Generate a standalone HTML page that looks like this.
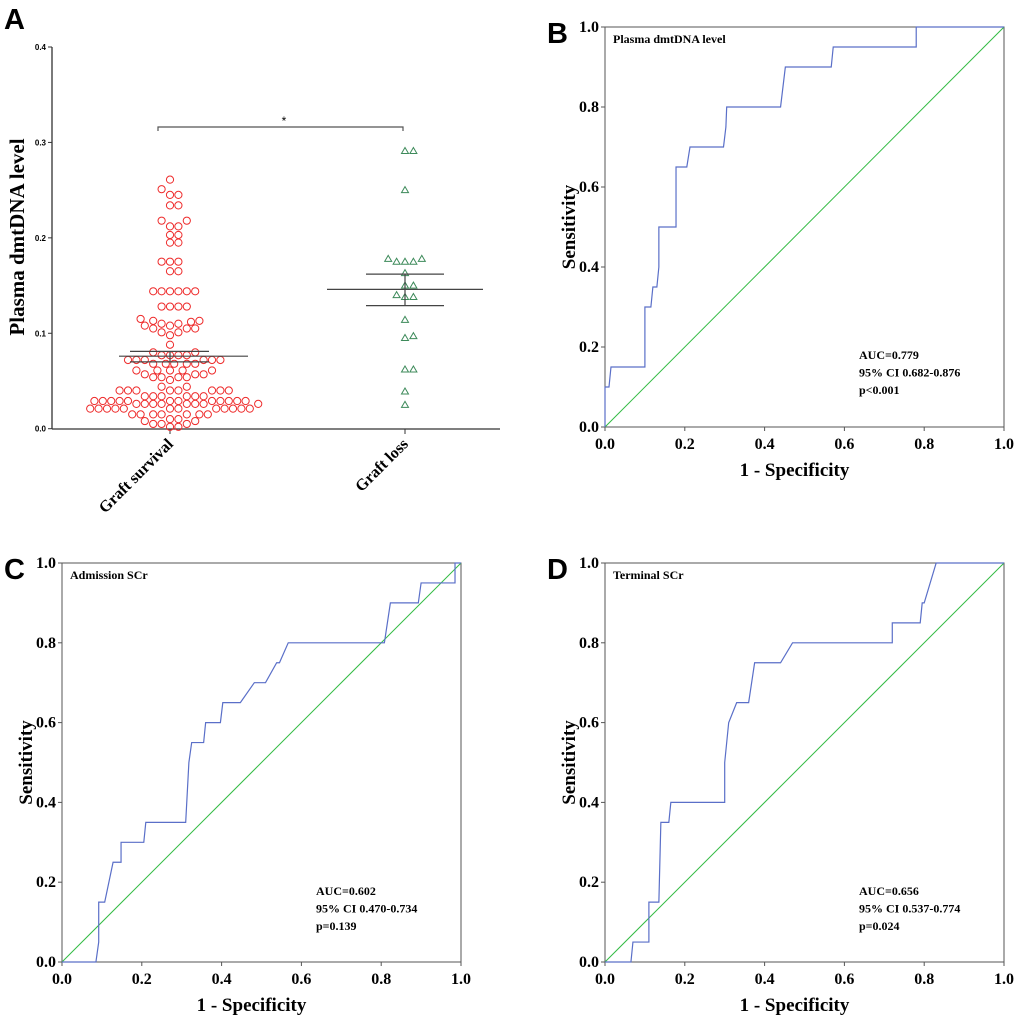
<!DOCTYPE html>
<html><head><meta charset="utf-8"><style>
html,body{margin:0;padding:0;background:#fff;}
svg{display:block;font-family:"Liberation Serif",serif;}
.lbl{font-family:"Liberation Sans",sans-serif;font-weight:bold;font-size:29px;}
.tk{font-weight:bold;font-size:16px;}
.ttl{font-weight:bold;font-size:19px;}
.ann{font-weight:bold;font-size:12px;}
</style></head><body>
<svg id="fig" width="1020" height="1022" viewBox="0 0 1020 1022" xmlns="http://www.w3.org/2000/svg"></svg>
<script>
// Panel A data
const survivalValues=[0.261,0.251,0.245,0.245,0.234,0.234,0.218,0.218,0.212,0.212,0.203,0.203,0.195,0.195,0.175,0.175,0.175,0.165,0.165,
0.144,0.144,0.144,0.144,0.144,0.144,0.128,0.128,0.128,0.128,0.115,0.113,0.113,0.112,0.11,0.11,0.108,0.108,0.105,0.105,0.105,0.101,0.101,0.098,0.088,0.08,0.08,
0.077,0.077,0.077,0.077,0.072,0.072,0.072,0.072,0.072,0.072,0.068,0.068,0.068,0.068,0.068,0.061,0.061,0.061,0.061,0.061,0.057,0.057,0.057,
0.054,0.054,0.054,0.054,0.051,0.044,0.044,0.04,0.04,0.04,0.04,0.04,0.04,0.04,0.04,0.034,0.034,0.034,0.034,0.034,0.034,
0.029,0.029,0.029,0.029,0.029,0.029,0.029,0.029,0.029,0.029,0.029,0.029,
0.026,0.026,0.026,0.026,0.026,0.026,0.026,0.026,
0.021,0.021,0.021,0.021,0.021,0.021,0.021,0.021,0.021,0.021,0.021,0.021,
0.015,0.015,0.015,0.015,0.015,0.015,0.015,0.01,0.01,0.008,0.008,0.005,0.005,0.005,0.002,0.002];
const lossValues=[0.291,0.291,0.25,0.178,0.178,0.175,0.175,0.175,0.163,0.15,0.15,0.138,0.138,0.14,0.114,0.097,0.095,0.062,0.062,0.039,0.025];
const groupNames=["Graft survival","Graft loss"];
const groupMeans=[0.076,0.146];
const groupSemHi=[0.081,0.162];
const groupSemLo=[0.070,0.129];
const aTicks=[0,0.1,0.2,0.3,0.4];
// ROC data
const rocBx=[0,0,0.01,0.015,0.1,0.1,0.115,0.12,0.13,0.135,0.135,0.178,0.178,0.205,0.213,0.297,0.303,0.305,0.44,0.452,0.567,0.572,0.78,0.78,1];
const rocBy=[0,0.1,0.1,0.15,0.15,0.3,0.3,0.35,0.35,0.4,0.5,0.5,0.65,0.65,0.7,0.7,0.75,0.8,0.8,0.9,0.9,0.95,0.95,1,1];
const rocCx=[0,0.085,0.092,0.092,0.107,0.128,0.148,0.148,0.205,0.21,0.31,0.318,0.325,0.355,0.36,0.397,0.403,0.447,0.482,0.51,0.538,0.545,0.567,0.808,0.823,0.893,0.9,0.985,0.985,1];
const rocCy=[0,0,0.05,0.15,0.15,0.25,0.25,0.3,0.3,0.35,0.35,0.5,0.55,0.55,0.6,0.6,0.65,0.65,0.7,0.7,0.75,0.75,0.8,0.8,0.9,0.9,0.95,0.95,1,1];
const rocDx=[0,0.065,0.07,0.11,0.11,0.135,0.14,0.16,0.165,0.3,0.3,0.31,0.33,0.36,0.375,0.44,0.47,0.72,0.72,0.79,0.795,0.8,0.83,1];
const rocDy=[0,0,0.05,0.05,0.15,0.15,0.35,0.35,0.4,0.4,0.5,0.6,0.65,0.65,0.75,0.75,0.8,0.8,0.85,0.85,0.9,0.9,1,1];
const rocTicks=[0,0.2,0.4,0.6,0.8,1.0];

const svg=document.getElementById('fig');
const NS='http://www.w3.org/2000/svg';
function mk(tag,attrs,parent,text){const e=document.createElementNS(NS,tag);for(const k in attrs)e.setAttribute(k,attrs[k]);if(text!==undefined)e.textContent=text;(parent||svg).appendChild(e);return e;}

// ---- Panel A ----
const gA=mk('g',{});


const ay=v=>428.7-(v/0.4)*381.7;
const ax=[170,405];
let t=mk('text',{x:4,y:29,class:'lbl'},gA,'A');

let l=mk('line',{x1:52,y1:47,x2:52,y2:429,stroke:'#333','stroke-width':1.3},gA);

l=mk('line',{x1:52,y1:429,x2:500,y2:429,stroke:'#333','stroke-width':1.3},gA);

aTicks.forEach(v=>{
  mk('line',{x1:48,y1:ay(v),x2:52,y2:ay(v),stroke:'#333'},gA);
  const tt=mk('text',{x:46,y:ay(v)+3,'text-anchor':'end','font-family':'Liberation Sans, sans-serif','font-size':8,'font-weight':'bold'},gA,v.toFixed(1));
  
});
t=mk('text',{x:0,y:0,'font-weight':'bold','font-size':21,'text-anchor':'middle',transform:'translate(24,237) rotate(-90)'},gA,'Plasma dmtDNA level');

groupNames.forEach((n,i)=>{
  mk('line',{x1:ax[i],y1:429,x2:ax[i],y2:434,stroke:'#333'},gA);
  const tt=mk('text',{x:0,y:0,'font-weight':'bold','font-size':16,'text-anchor':'end',transform:`translate(${ax[i]+4},${445}) rotate(-45)`},gA,n);
  
});
// beeswarm
function swarm(vals,cx,r){
  const placed=[];const out=[];
  const sorted=vals.map((v,i)=>[v,i]).sort((a,b)=>a[0]-b[0]);
  sorted.forEach(([v])=>{
    const y=ay(v);
    for(let k=0;k<80;k++){
      const off=(k%2?1:-1)*Math.ceil(k/2)*r;
      const x=cx+off;
      if(placed.every(p=>(p[0]-x)**2+(p[1]-y)**2>=(1.75*r)**2)){placed.push([x,y]);out.push([x,y]);break;}
    }
  });
  return out;
}
swarm(survivalValues,ax[0],4.2).forEach(([x,y])=>{
  const c=mk('circle',{cx:x,cy:y,r:3.6,fill:'none',stroke:'#ee2a2a','stroke-width':1},gA);
  
});
swarm(lossValues,ax[1],4.2).forEach(([x,y])=>{
  const c=mk('path',{d:`M${x},${y-3.5}L${x+3.5},${y+2.5}L${x-3.5},${y+2.5}Z`,fill:'none',stroke:'#3d8a5a','stroke-width':1},gA);
  
});
const meanW=[[119,248],[327,483]],semW=[[130,209],[366,444]];
groupMeans.forEach((m,i)=>{
  let e=mk('line',{x1:meanW[i][0],x2:meanW[i][1],y1:ay(m),y2:ay(m),stroke:'#444','stroke-width':1.2},gA);
  
  [groupSemHi[i],groupSemLo[i]].forEach(s=>{
    const e2=mk('line',{x1:semW[i][0],x2:semW[i][1],y1:ay(s),y2:ay(s),stroke:'#444','stroke-width':1.2},gA);
    
  });
  mk('line',{x1:ax[i],x2:ax[i],y1:ay(groupSemHi[i]),y2:ay(groupSemLo[i]),stroke:'#444','stroke-width':1.2},gA);
});
let br=mk('path',{d:'M158,131V127H403V131',fill:'none',stroke:'#555','stroke-width':1.2},gA);

t=mk('text',{x:284,y:125,'text-anchor':'middle','font-size':12,'font-family':'Liberation Sans, sans-serif'},gA,'*');


// ---- ROC panels ----
function roc(name,letter,x0,y0,x1,y1,xs,ys,title,ann){
  const g=mk('g',{});
  
  
  const sx=v=>x0+v*(x1-x0), sy=v=>y1-v*(y1-y0);
  let e=mk('text',{x:x0-58,y:y0+16,class:'lbl'},g,letter);
  
  e=mk('rect',{x:x0,y:y0,width:x1-x0,height:y1-y0,fill:'none',stroke:'#555','stroke-width':1},g);
  
  rocTicks.forEach(v=>{
    mk('line',{x1:sx(v),x2:sx(v),y1:y1,y2:y1+4,stroke:'#555'},g);
    mk('line',{x1:x0-4,x2:x0,y1:sy(v),y2:sy(v),stroke:'#555'},g);
    let a=mk('text',{x:sx(v),y:y1+22,'text-anchor':'middle',class:'tk'},g,v.toFixed(1));
    
    a=mk('text',{x:x0-6,y:sy(v)+5,'text-anchor':'end',class:'tk'},g,v.toFixed(1));
    
  });
  e=mk('text',{x:(x0+x1)/2-10,y:y1+49,'text-anchor':'middle',class:'ttl'},g,'1 - Specificity');
  
  e=mk('text',{x:0,y:0,'text-anchor':'middle',class:'ttl',transform:`translate(${x0-30},${(y0+y1)/2}) rotate(-90)`},g,'Sensitivity');
  
  e=mk('line',{x1:sx(0),y1:sy(0),x2:sx(1),y2:sy(1),stroke:'#33bb44','stroke-width':1},g);
  
  e=mk('polyline',{points:xs.map((v,i)=>sx(v)+','+sy(ys[i])).join(' '),fill:'none',stroke:'#5a6fc8','stroke-width':1.2},g);
  
  e=mk('text',{x:x0+8,y:y0+16,class:'ann'},g,title);
  
  ann.forEach((s,i)=>{const a=mk('text',{x:x0+254,y:y0+332+i*17.5,class:'ann'},g,s);
    });
}
roc('panel-b','B',605,27,1004,427,rocBx,rocBy,'Plasma dmtDNA level',['AUC=0.779','95% CI 0.682-0.876','p<0.001']);
roc('panel-c','C',62,563,461,962,rocCx,rocCy,'Admission SCr',['AUC=0.602','95% CI 0.470-0.734','p=0.139']);
roc('panel-d','D',605,563,1004,962,rocDx,rocDy,'Terminal SCr',['AUC=0.656','95% CI 0.537-0.774','p=0.024']);
</script>
</body></html>
